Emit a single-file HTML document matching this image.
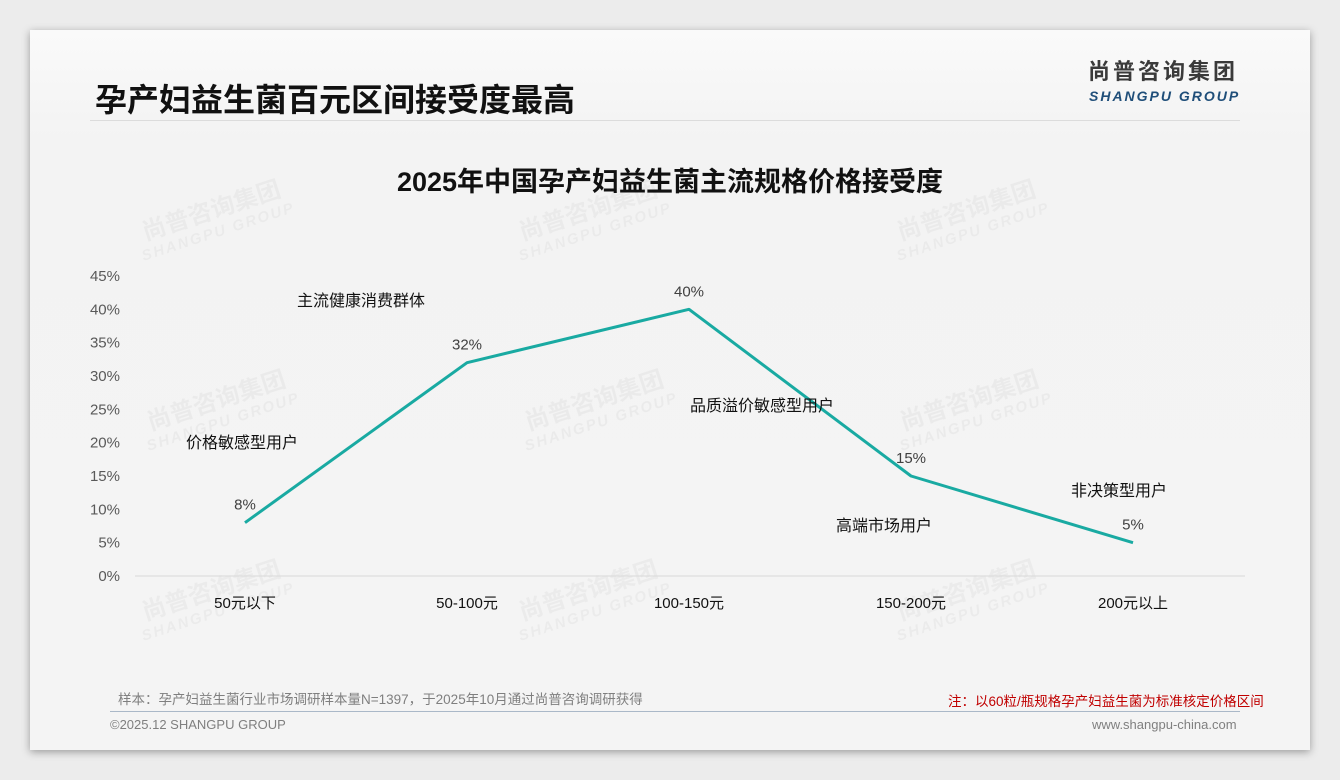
<!DOCTYPE html>
<html><head><meta charset="utf-8"><style>
body{margin:0;width:1340px;height:780px;background:#ececec;position:relative;overflow:hidden;font-family:"Liberation Sans","Noto Sans CJK SC",sans-serif}
#card{position:absolute;left:30px;top:30px;width:1280px;height:720px;background:linear-gradient(#fafafa,#f3f3f3 15%,#f4f4f4);box-shadow:0 2px 8px rgba(0,0,0,.35)}
.t{position:absolute;white-space:nowrap}
.wm{position:absolute;color:rgba(0,0,0,0.035);font-weight:bold;transform:rotate(-18deg);font-size:24px;line-height:22px;text-align:center}
.wm span{display:block;font-size:15px;letter-spacing:2px;font-style:italic}
</style></head><body>
<div id="card"></div>
<div class="t" style="left:95px;top:75px;font-size:32px;font-weight:bold;color:#111">孕产妇益生菌百元区间接受度最高</div>
<div style="position:absolute;left:90px;top:120px;width:1150px;height:1px;background:#dcdcdc"></div>
<div class="t" style="left:1088px;top:58px;font-size:22px;line-height:28px;font-weight:bold;color:#3a3a3a;letter-spacing:3px">尚普咨询集团</div>
<div class="t" style="left:1089px;top:88px;font-size:14px;font-weight:bold;font-style:italic;color:#1f4e79;letter-spacing:2px">SHANGPU GROUP</div>
<div class="t" style="left:0;width:1340px;text-align:center;top:160px;font-size:27px;font-weight:bold;color:#111">2025年中国孕产妇益生菌主流规格价格接受度</div>
<div class="wm" style="left:135px;top:200px">尚普咨询集团<span>SHANGPU GROUP</span></div>
<div class="wm" style="left:512px;top:200px">尚普咨询集团<span>SHANGPU GROUP</span></div>
<div class="wm" style="left:890px;top:200px">尚普咨询集团<span>SHANGPU GROUP</span></div>
<div class="wm" style="left:140px;top:390px">尚普咨询集团<span>SHANGPU GROUP</span></div>
<div class="wm" style="left:518px;top:390px">尚普咨询集团<span>SHANGPU GROUP</span></div>
<div class="wm" style="left:893px;top:390px">尚普咨询集团<span>SHANGPU GROUP</span></div>
<div class="wm" style="left:135px;top:580px">尚普咨询集团<span>SHANGPU GROUP</span></div>
<div class="wm" style="left:512px;top:580px">尚普咨询集团<span>SHANGPU GROUP</span></div>
<div class="wm" style="left:890px;top:580px">尚普咨询集团<span>SHANGPU GROUP</span></div>
<svg id="chart" width="1340" height="780" style="position:absolute;left:0;top:0"></svg>
<div class="t" style="left:118px;top:688px;font-size:13.5px;color:#7f7f7f">样本：孕产妇益生菌行业市场调研样本量N=1397，于2025年10月通过尚普咨询调研获得</div>
<div class="t" style="left:948px;top:690px;font-size:13.5px;color:#c00000">注：以60粒/瓶规格孕产妇益生菌为标准核定价格区间</div>
<div style="position:absolute;left:110px;top:711px;width:1130px;height:1px;background:#aab8c8"></div>
<div class="t" style="left:110px;top:717px;font-size:13px;color:#7f7f7f">©2025.12 SHANGPU GROUP</div>
<div class="t" style="left:1092px;top:717px;font-size:13px;color:#7f7f7f">www.shangpu-china.com</div>
<script>
const categories=["50元以下","50-100元","100-150元","150-200元","200元以上"];
const values=[8,32,40,15,5];
const yTicks=[0,5,10,15,20,25,30,35,40,45];
const segments=["价格敏感型用户","主流健康消费群体","品质溢价敏感型用户","高端市场用户","非决策型用户"];
const segPos=[[242,443],[361,301],[762,406],[884,526],[1119,491]];
const NS="http://www.w3.org/2000/svg";
const svg=document.getElementById('chart');
const x=i=>245+i*222;
const y=v=>576-v*300/45;
function mk(tag,attrs,txt){const e=document.createElementNS(NS,tag);for(const k in attrs)e.setAttribute(k,attrs[k]);if(txt!=null)e.textContent=txt;svg.appendChild(e);return e;}
const ax=mk('line',{x1:135,x2:1245,y1:y(0),y2:y(0),stroke:'#d9d9d9','stroke-width':1});


yTicks.forEach(t=>{const e=mk('text',{x:120,y:y(t)+5,'text-anchor':'end','font-size':15,fill:'#595959'},t+'%');

});
categories.forEach((c,i)=>{const e=mk('text',{x:x(i),y:608,'text-anchor':'middle','font-size':15,fill:'#111'},c);

});
const pl=mk('polyline',{points:values.map((v,i)=>x(i)+','+y(v)).join(' '),fill:'none',stroke:'#19aaa2','stroke-width':3,'stroke-linejoin':'round'});


values.forEach((v,i)=>{const e=mk('text',{x:x(i),y:y(v)-13,'text-anchor':'middle','font-size':15,fill:'#404040'},v+'%');

});
segments.forEach((s,i)=>{const e=mk('text',{x:segPos[i][0],y:segPos[i][1]+5,'text-anchor':'middle','font-size':16,fill:'#111'},s);

});
</script>
</body></html>
